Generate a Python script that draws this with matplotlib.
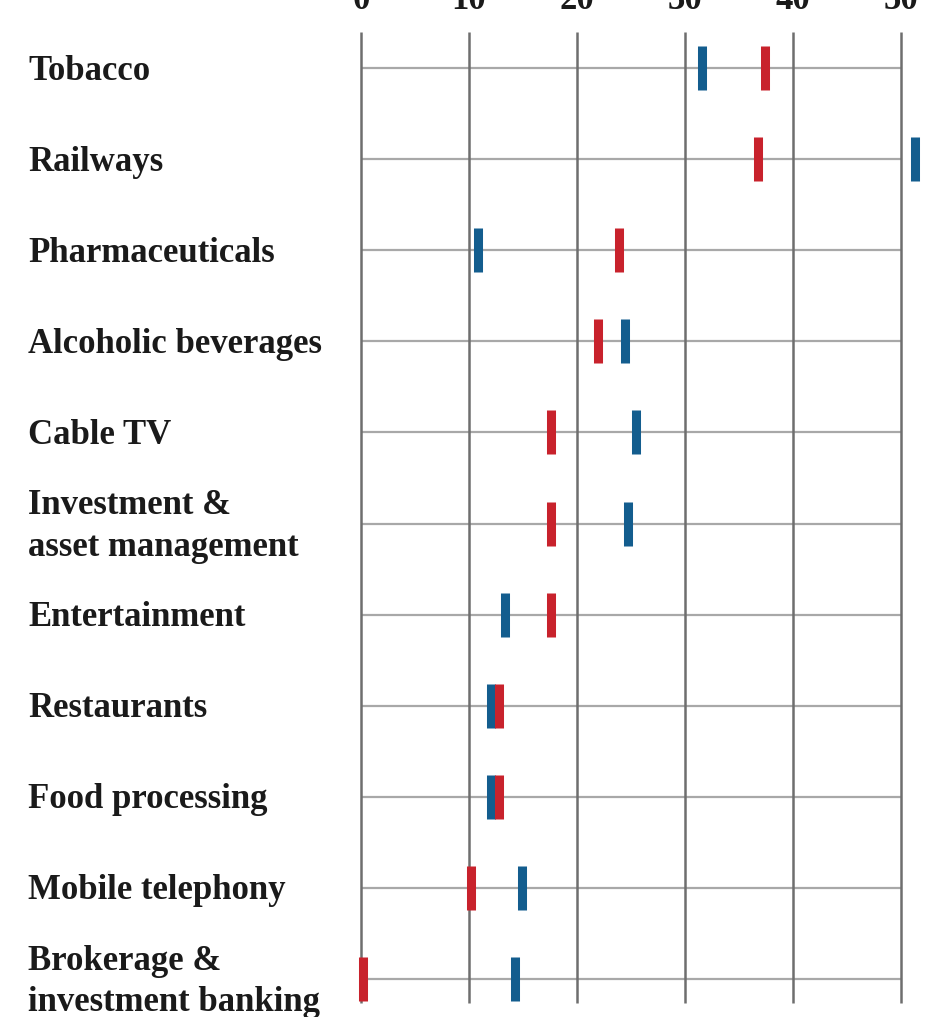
import matplotlib
matplotlib.use("Agg")
import matplotlib.pyplot as plt
import matplotlib.transforms as mtransforms

categories = ["Tobacco", "Railways", "Pharmaceuticals", "Alcoholic beverages", "Cable TV",
              "Investment &\nasset management", "Entertainment", "Restaurants",
              "Food processing", "Mobile telephony", "Brokerage &\ninvestment banking"]
blue_values = [31.6, 51.3, 10.8, 24.4, 25.5, 24.7, 13.3, 12.0, 12.0, 14.9, 14.3]
red_values = [37.4, 36.8, 23.9, 21.9, 17.6, 17.6, 17.6, 12.8, 12.8, 10.2, 0.2]
ticks = [0, 10, 20, 30, 40, 50]

W, H = 930, 1017
fig = plt.figure(figsize=(W / 100, H / 100), dpi=100)
left, right = 361 / W, 901 / W
top_px, bot_px = 32, 1003
ax = fig.add_axes([left, 1 - bot_px / H, right - left, (bot_px - top_px) / H])
n = len(categories)
row0, rowN = 68, 979
sp = (rowN - row0) / (n - 1)
ax.set_xlim(0, 50)
ax.set_ylim(n - 1 + (bot_px - rowN) / sp, -(row0 - top_px) / sp)
ax.axis("off")

ys = list(range(n))
ax.hlines(ys, 0, 50, color="#a8a8a8", lw=1.6, zorder=1)
ax.vlines(ticks, ax.get_ylim()[0], ax.get_ylim()[1], color="#6e6e6e", lw=1.8, zorder=2,
          clip_on=False)

ax.plot(blue_values, ys, ls="none", marker="|", ms=32, mew=6.5, color="#135d8e",
        clip_on=False, zorder=3)
ax.plot(red_values, ys, ls="none", marker="|", ms=32, mew=6.5, color="#c8222c",
        clip_on=False, zorder=4)

font = dict(family="Liberation Serif", weight="bold", size=25, color="#1a1a1a")
ytr = mtransforms.blended_transform_factory(fig.transFigure, ax.transData)
ytr = ytr + mtransforms.ScaledTranslation(0, -3 / 100, fig.dpi_scale_trans)
for y, c in zip(ys, categories):
    ax.text(28 / W, y, c, transform=ytr, ha="left", va="center", linespacing=1.34, **font)

xtr = mtransforms.blended_transform_factory(ax.transData, fig.transFigure)
for t in ticks:
    ax.text(t, 1 - 9 / H, str(t), transform=xtr, ha="center", va="baseline",
            clip_on=False, **font)

fig.savefig("out.png", dpi=100, facecolor="white")
